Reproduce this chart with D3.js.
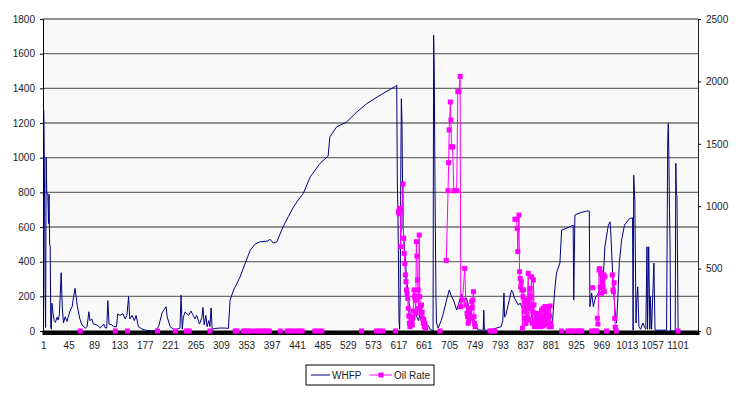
<!DOCTYPE html>
<html>
<head>
<meta charset="utf-8">
<script src="https://d3js.org/d3.v7.min.js"></script>
<style>
  body { margin: 0; background: #fff; }
  svg { display: block; font-family: "Liberation Sans", Arial, sans-serif; }
  .axis text { font-size: 10px; fill: #222; }
</style>
</head>
<body>
<div id="chart"></div>
<script>
const WIDTH = 740;
const HEIGHT = 393;
const WHFP_COLOR = '#000080';
const OIL_COLOR = '#ff00ff';

// days on the category axis
const dayCount = 1136;
const dayLabels = [1, 45, 89, 133, 177, 221, 265, 309, 353, 397, 441, 485, 529, 573,
  617, 661, 705, 749, 793, 837, 881, 925, 969, 1013, 1057, 1101];
const leftTicks = [0, 200, 400, 600, 800, 1000, 1200, 1400, 1600, 1800];
const rightTicks = [0, 500, 1000, 1500, 2000, 2500];

// WHFP [day, value]
const whfp = [
  [1,1300],[2,1260],[3,900],[4,250],[5,20],[6,1000],[7,800],[8,790],[9,780],[10,620],[11,790],
  [12,500],[13,490],[14,20],[15,10],[16,160],[18,100],[20,60],[22,50],[25,80],[27,63],[29,100],
  [32,336],[34,133],[36,46],[39,82],[42,55],[45,90],[48,121],[51,140],[54,207],[56,246],[58,198],
  [60,145],[64,75],[68,35],[74,17],[77,25],[80,111],[82,60],[85,70],[88,40],[94,35],[100,17],
  [106,40],[108,20],[111,17],[113,175],[115,40],[120,35],[123,25],[128,25],[130,98],[134,90],
  [139,100],[143,70],[146,90],[149,198],[151,70],[155,90],[159,60],[162,90],[166,25],[172,12],
  [178,5],[186,2],[195,2],[201,25],[207,105],[211,125],[214,140],[216,80],[221,25],[227,10],
  [233,10],[238,17],[240,207],[242,10],[244,80],[247,110],[253,90],[257,115],[261,90],[264,70],
  [267,90],[272,40],[276,78],[278,136],[280,35],[283,90],[285,25],[288,60],[290,25],[292,133],
  [294,10],[299,15],[308,17],[316,17],[322,15],[325,179],[331,236],[337,275],[342,310],[350,380],
  [360,467],[368,500],[377,515],[391,519],[394,530],[400,507],[406,515],[417,601],[426,660],
  [435,716],[443,755],[452,794],[464,889],[481,967],[495,1009],[498,1120],[510,1178],[527,1206],
  [545,1264],[562,1312],[585,1360],[602,1393],[612,1412],[614,1418],[615,870],[616,700],[617,400],
  [618,60],[619,10],[620,200],[621,900],[622,1340],[623,1220],[624,880],[625,600],[627,500],
  [629,409],[631,300],[634,219],[637,104],[640,60],[643,70],[646,110],[649,80],[652,60],[654,100],
  [657,50],[660,80],[663,30],[666,40],[669,30],[672,10],[677,0],[678,1706],[679,1530],[680,1000],
  [681,582],[682,200],[683,46],[686,17],[691,60],[695,104],[700,173],[705,236],[709,200],[713,173],
  [718,121],[721,150],[726,213],[730,173],[735,190],[741,104],[747,70],[751,40],[755,5],[764,5],
  [765,120],[766,5],[776,5],[787,17],[795,25],[798,60],[800,219],[801,80],[803,90],[810,190],
  [813,236],[815,226],[818,190],[821,173],[825,150],[828,161],[831,140],[834,104],[837,111],
  [840,80],[845,60],[848,90],[851,60],[854,80],[857,40],[860,50],[863,25],[866,40],[870,20],
  [874,30],[878,25],[884,46],[888,236],[891,334],[897,392],[900,582],[908,592],[914,601],[920,611],
  [921,179],[923,669],[932,682],[943,692],[948,692],[949,140],[952,219],[955,140],[959,198],
  [962,207],[966,236],[972,294],[975,486],[981,611],[984,630],[985,582],[989,294],[992,140],
  [995,46],[997,150],[1000,392],[1004,524],[1009,611],[1018,649],[1023,653],[1024,5],[1025,899],
  [1027,745],[1028,392],[1029,46],[1030,161],[1032,255],[1034,25],[1037,10],[1041,46],[1044,20],
  [1046,10],[1048,486],[1049,10],[1051,486],[1053,10],[1054,198],[1056,10],[1060,392],[1062,5],
  [1082,5],[1084,1101],[1085,1197],[1086,1000],[1087,700],[1088,507],[1089,0],[1097,0],[1098,968],
  [1099,795],[1100,780],[1102,0]
];

// oil rate: days with a zero reading, and the test periods [day, rate]
const oilZeroDays = [65,126,147,199,230,249,254,290,334,337,348,352,356,360,368,373,378,383,388,
  393,412,424,429,434,440,445,450,472,477,484,553,579,584,590,612,689,776,780,784,900,911,915,
  919,923,929,932,935,952,956,958,961,978,995,1102];
const oilTest1 = [
  [617,956],[618,940],[619,970],[620,983],[621,676],[625,1178],[626,743],[627,622],[628,540],
  [629,449],[630,395],[631,329],[632,300],[633,262],[634,182],[635,120],[636,62],[637,35],
  [638,115],[639,70],[640,88],[641,50],[642,102],[643,160],[644,329],[645,280],[646,248],
  [647,142],[648,716],[649,600],[650,409],[651,329],[652,180],[653,769],[654,275],[655,200],
  [656,142],[657,208],[658,150],[659,102],[660,62],[661,90],[662,35],[663,60],[664,20]
];
const oilTest2 = [
  [700,565],[703,1124],[704,1349],[705,1611],[707,1835],[708,1690],[709,1475],[711,1475],
  [713,1124],[718,1124],[720,1918],[722,1918],[724,2040],[725,195],[728,248],[732,502],
  [734,208],[736,142],[737,115],[738,62],[739,88],[740,168],[741,128],[742,182],[743,100],
  [744,235],[745,190],[746,248],[747,315],[748,115],[749,60],[750,35]
];
const oilTest3 = [
  [819,895],[822,895],[823,823],[824,636],[826,929],[827,475],[828,422],[829,355],[830,395],
  [831,329],[832,22],[833,275],[834,330],[835,160],[836,235],[837,100],[838,60],[839,195],
  [840,115],[841,250],[842,462],[843,88],[844,200],[845,342],[846,275],[847,182],[848,435],
  [849,62],[850,150],[851,409],[852,208],[853,35],[854,142],[855,90],[856,60],[857,128],
  [858,88],[859,62],[860,140],[861,35],[862,88],[863,120],[864,35],[865,168],[866,100],
  [867,40],[868,182],[869,62],[870,120],[871,195],[872,90],[873,140],[874,195],[875,128],
  [876,60],[877,182],[878,35],[879,120],[880,200],[881,62],[882,35]
];
const oilTest4 = [[954,347]];
const oilTest5 = [
  [962,102],[963,56],[965,489],[966,500],[967,350],[968,465],[969,302],[970,447],[971,410],
  [972,355],[973,449],[974,315],[975,435]
];
const oilTest6 = [[988,449],[989,329],[990,315],[991,387],[992,102],[993,30]];

const margin = {top: 19, right: 42, bottom: 62, left: 43};
const plotW = WIDTH - margin.left - margin.right;
const plotH = HEIGHT - margin.top - margin.bottom;

const svg = d3.select('#chart').append('svg')
  .attr('width', WIDTH)
  .attr('height', HEIGHT);

const g = svg.append('g')
  .attr('transform', `translate(${margin.left},${margin.top})`);

const x = d3.scaleLinear().domain([0.5, dayCount + 0.5]).range([0, plotW]);
const yL = d3.scaleLinear().domain([0, 1800]).range([plotH, 0]);
const yR = d3.scaleLinear().domain([0, 2500]).range([plotH, 0]);

g.append('rect')
  .attr('width', plotW)
  .attr('height', plotH)
  .attr('fill', '#f9f9f9');

// gridlines
g.append('g')
  .selectAll('line')
  .data(leftTicks.filter(d => d > 0))
  .enter().append('line')
    .attr('x1', 0)
    .attr('x2', plotW)
    .attr('y1', d => yL(d))
    .attr('y2', d => yL(d))
    .attr('stroke', '#6e6e6e')
    .attr('stroke-width', 1.3);

// left axis
const leftAxis = g.append('g')
  .attr('class', 'axis')
  .call(d3.axisLeft(yL).tickValues(leftTicks).tickSize(3).tickPadding(5).tickFormat(d3.format('d')));
leftAxis.select('.domain').attr('stroke', '#000');

// right axis
const rightAxis = g.append('g')
  .attr('class', 'axis')
  .attr('transform', `translate(${plotW},0)`)
  .call(d3.axisRight(yR).tickValues(rightTicks).tickSize(3).tickPadding(5).tickFormat(d3.format('d')));
rightAxis.select('.domain').attr('stroke', '#222');

// bottom axis: a tick for every day (reads as a heavy band), labels every 44 days
const allDays = d3.range(1, dayCount + 1);
const bottomAxis = g.append('g')
  .attr('class', 'axis')
  .attr('transform', `translate(0,${plotH})`)
  .call(d3.axisBottom(x).tickValues(allDays).tickSize(4).tickPadding(7)
    .tickFormat(d => dayLabels.includes(d) ? d : ''));
bottomAxis.selectAll('.tick line').attr('stroke', '#000').attr('stroke-width', 1);
bottomAxis.select('.domain').attr('stroke', '#000').attr('stroke-width', 2);
bottomAxis.selectAll('.tick').filter(d => !dayLabels.includes(d)).select('text').remove();

// WHFP line
const whfpLine = d3.line()
  .x(d => x(d[0]))
  .y(d => yL(d[1]));

g.append('path')
  .datum(whfp)
  .attr('fill', 'none')
  .attr('stroke', WHFP_COLOR)
  .attr('stroke-width', 1)
  .attr('d', whfpLine);

// Oil rate
const oilLine = d3.line()
  .x(d => x(d[0]))
  .y(d => yR(d[1]));

const oilTests = [oilTest1, oilTest2, oilTest3, oilTest4, oilTest5, oilTest6];
const oilPoints = oilZeroDays.map(d => [d, 0]).concat(...oilTests);

g.append('g')
  .selectAll('path')
  .data(oilTests)
  .enter().append('path')
    .attr('fill', 'none')
    .attr('stroke', OIL_COLOR)
    .attr('stroke-width', 1)
    .attr('d', oilLine);

g.append('g')
  .selectAll('rect')
  .data(oilPoints)
  .enter().append('rect')
    .attr('x', d => x(d[0]) - 2.5)
    .attr('y', d => yR(d[1]) - 2.5)
    .attr('width', 5)
    .attr('height', 5)
    .attr('fill', OIL_COLOR);

// legend
const legend = svg.append('g').attr('transform', 'translate(306,365)');
legend.append('rect')
  .attr('width', 128)
  .attr('height', 20)
  .attr('fill', '#fff')
  .attr('stroke', '#000')
  .attr('stroke-width', 1);
legend.append('line')
  .attr('x1', 5).attr('x2', 24).attr('y1', 10).attr('y2', 10)
  .attr('stroke', WHFP_COLOR);
legend.append('text')
  .attr('x', 26).attr('y', 10).attr('dy', '.35em')
  .attr('font-size', 10).attr('fill', '#222')
  .text('WHFP');
legend.append('line')
  .attr('x1', 64).attr('x2', 86).attr('y1', 10).attr('y2', 10)
  .attr('stroke', OIL_COLOR);
legend.append('rect')
  .attr('x', 72.5).attr('y', 7.5).attr('width', 5).attr('height', 5)
  .attr('fill', OIL_COLOR);
legend.append('text')
  .attr('x', 88).attr('y', 10).attr('dy', '.35em')
  .attr('font-size', 10).attr('fill', '#222')
  .text('Oil Rate');
</script>
</body>
</html>
